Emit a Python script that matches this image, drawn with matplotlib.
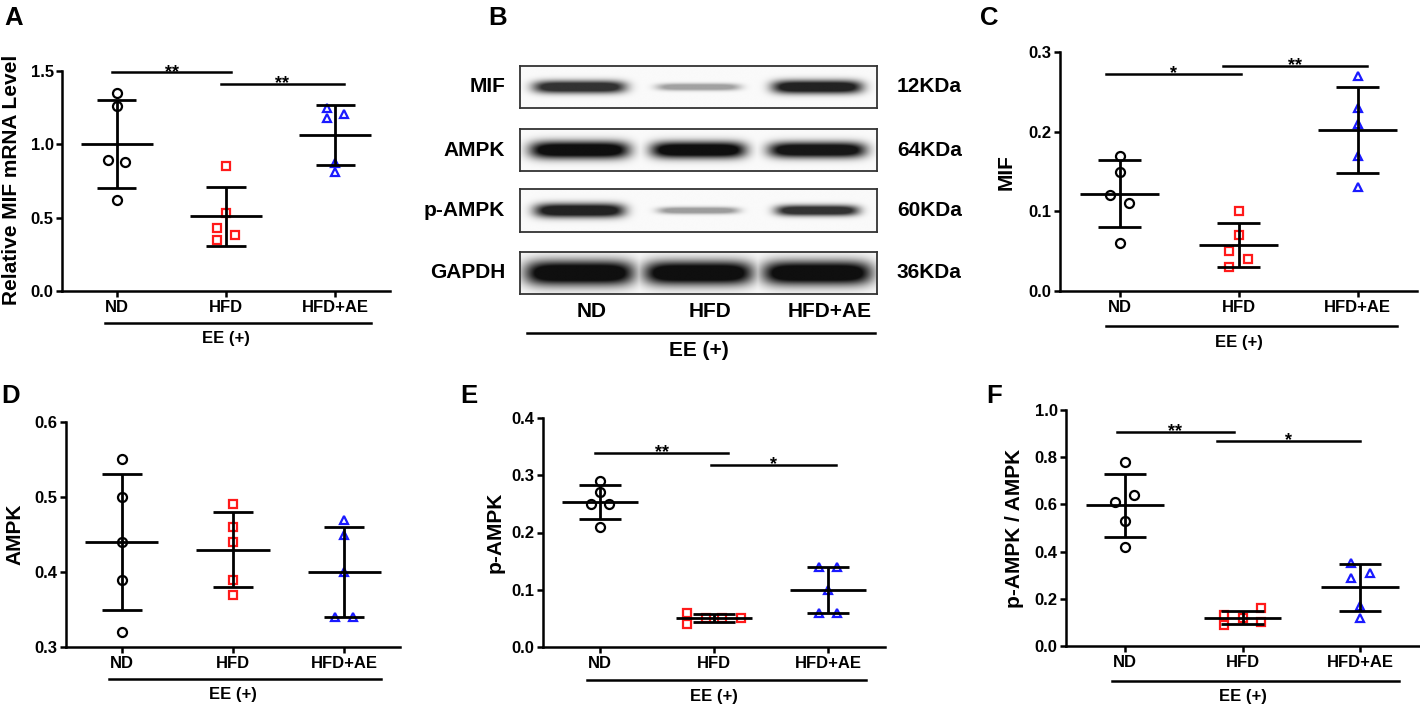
import numpy as np
import matplotlib
matplotlib.use("Agg")
import matplotlib.pyplot as plt
from matplotlib.transforms import ScaledTranslation

plt.rcParams['font.family'] = ['Liberation Sans', 'DejaVu Sans']
plt.rcParams['font.weight'] = 'bold'

groups = ["ND", "HFD", "HFD+AE"]

# A - relative MIF mRNA level
mrna_nd = [1.35, 1.26, 0.89, 0.88, 0.62]
mrna_hfd = [0.85, 0.53, 0.43, 0.38, 0.35]
mrna_ae = [1.25, 1.21, 1.18, 0.87, 0.81]

# C - MIF protein
mif_nd = [0.17, 0.15, 0.12, 0.11, 0.06]
mif_hfd = [0.10, 0.07, 0.05, 0.04, 0.03]
mif_ae = [0.27, 0.23, 0.21, 0.17, 0.13]

# D - AMPK
ampk_nd = [0.55, 0.50, 0.44, 0.39, 0.32]
ampk_hfd = [0.49, 0.46, 0.44, 0.39, 0.37]
ampk_ae = [0.47, 0.45, 0.40, 0.34, 0.34]

# E - p-AMPK
pampk_nd = [0.29, 0.27, 0.25, 0.25, 0.21]
pampk_hfd = [0.06, 0.04, 0.05, 0.05, 0.05]
pampk_ae = [0.14, 0.14, 0.10, 0.06, 0.06]

# F - p-AMPK / AMPK
ratio_nd = [0.78, 0.64, 0.61, 0.53, 0.42]
ratio_hfd = [0.16, 0.13, 0.12, 0.10, 0.09]
ratio_ae = [0.35, 0.31, 0.29, 0.17, 0.12]

# B - western blot, relative band density per lane
blot_rows = ["MIF", "AMPK", "p-AMPK", "GAPDH"]
blot_kda = ["12KDa", "64KDa", "60KDa", "36KDa"]
band_density = [[0.85, 0.38, 0.92],
                [1.00, 1.00, 0.97],
                [0.92, 0.40, 0.85],
                [1.00, 1.00, 1.00]]
band_width = [[0.39, 0.35, 0.38],
              [0.42, 0.40, 0.41],
              [0.38, 0.34, 0.35],
              [0.46, 0.46, 0.46]]
band_thick = [[0.30, 0.17, 0.32],
              [0.42, 0.40, 0.38],
              [0.33, 0.16, 0.25],
              [0.60, 0.58, 0.58]]

colors = ['black', '#ff1a1a', '#1a1aff']
markers = ['o', 's', '^']
msizes = [6.5, 5.6, 6.2]

W, H = 1420, 707
fig = plt.figure(figsize=(W / 100, H / 100), dpi=100)


def px_axes(l, t, r, b):
    return fig.add_axes([l / W, 1 - b / H, (r - l) / W, (b - t) / H])


def px_text(x, y, s, **kw):
    fig.text(x / W, 1 - y / H, s, **kw)


def group_line(ax, x0, x1, line_off, text_off, xtext=1, fs=12):
    tr = ax.get_xaxis_transform()
    ax.plot([x0, x1], [0, 0], color='black', lw=1.8, clip_on=False,
            transform=tr + ScaledTranslation(0, -line_off / 100, fig.dpi_scale_trans))
    ax.text(xtext, 0, "EE (+)", ha='center', va='center', fontsize=fs,
            transform=tr + ScaledTranslation(0, -text_off / 100, fig.dpi_scale_trans))


def dot_panel(rect, values, jitter, ylim, yticks, sig, offs=(33, 49)):
    ax = px_axes(*rect)
    for i, (vals, jit) in enumerate(zip(values, jitter)):
        vals = np.array(vals)
        ax.plot(i + np.array(jit), vals, linestyle='none', marker=markers[i],
                ms=msizes[i], mfc='none', mec=colors[i], mew=1.6,
                zorder=3, clip_on=False)
        m = vals.mean()
        sd = vals.std(ddof=1)
        kw = dict(color='black', lw=2.0, zorder=4, solid_capstyle='butt')
        ax.plot([i - 0.33, i + 0.33], [m, m], **kw)
        ax.plot([i, i], [m - sd, m + sd], **kw)
        ax.plot([i - 0.18, i + 0.18], [m + sd, m + sd], **kw)
        ax.plot([i - 0.18, i + 0.18], [m - sd, m - sd], **kw)
    for x0, x1, y, lab in sig:
        ax.plot([x0, x1], [y, y], color='black', lw=1.8, clip_on=False)
        ax.annotate(lab, xy=((x0 + x1) / 2, y), xytext=(0, -3),
                    textcoords='offset points', ha='center', va='baseline',
                    fontsize=13)
    ax.set_xlim(-0.5, 2.5)
    ax.set_ylim(*ylim)
    ax.set_yticks(yticks)
    ax.set_yticklabels(["%.1f" % t for t in yticks])
    ax.set_xticks(range(3))
    ax.set_xticklabels(groups)
    for s in ['top', 'right']:
        ax.spines[s].set_visible(False)
    for s in ['left', 'bottom']:
        ax.spines[s].set_linewidth(1.8)
    ax.tick_params(width=1.8, length=4.5, labelsize=12, pad=2)
    ax.tick_params(axis='y', pad=1.5)
    ax.patch.set_alpha(0)
    group_line(ax, -0.11, 2.33, offs[0], offs[1])
    return ax


# A
dot_panel((62, 71, 390, 291), [mrna_nd, mrna_hfd, mrna_ae],
          [[0, 0, -0.08, 0.08, 0], [0, 0, -0.08, 0.08, -0.08],
           [-0.08, 0.08, -0.08, 0, 0]],
          (0, 1.5), [0, 0.5, 1.0, 1.5],
          [(-0.04, 1.05, 1.49, "**"), (0.95, 2.08, 1.41, "**")], (32, 47))
px_text(12, 180, "Relative MIF mRNA Level", rotation=90, ha='center',
        va='center', fontsize=15)

# C
dot_panel((1060, 52, 1417, 291), [mif_nd, mif_hfd, mif_ae],
          [[0, 0, -0.08, 0.08, 0], [0, 0, -0.08, 0.08, -0.08],
           [0, 0, 0, 0, 0]],
          (0, 0.3), [0, 0.1, 0.2, 0.3],
          [(-0.11, 1.02, 0.272, "*"), (0.87, 2.08, 0.282, "**")], (35, 51))
px_text(1006, 172, "MIF", rotation=90, ha='center', va='center', fontsize=15)

# D
dot_panel((66, 422, 400, 647), [ampk_nd, ampk_hfd, ampk_ae],
          [[0, 0, 0, 0, 0], [0, 0, 0, 0, 0], [0, 0, 0, -0.08, 0.08]],
          (0.3, 0.6), [0.3, 0.4, 0.5, 0.6], [], (32, 48))
px_text(15, 534, "AMPK", rotation=90, ha='center', va='center', fontsize=15)

# E
dot_panel((543, 418, 885, 647), [pampk_nd, pampk_hfd, pampk_ae],
          [[0, 0, -0.08, 0.08, 0], [-0.24, -0.24, -0.07, 0.07, 0.24],
           [-0.08, 0.08, 0, -0.08, 0.08]],
          (0, 0.4), [0, 0.1, 0.2, 0.3, 0.4],
          [(-0.04, 1.12, 0.339, "**"), (0.97, 2.07, 0.318, "*")], (33, 50))
px_text(495, 532, "p-AMPK", rotation=90, ha='center', va='center', fontsize=15)

# F
dot_panel((1066, 410, 1419, 646), [ratio_nd, ratio_hfd, ratio_ae],
          [[0, 0.08, -0.08, 0, 0], [0.16, -0.16, 0, 0.16, -0.16],
           [-0.08, 0.08, -0.08, 0, 0]],
          (0, 1.0), [0, 0.2, 0.4, 0.6, 0.8, 1.0],
          [(-0.07, 0.93, 0.908, "**"), (0.78, 2.0, 0.869, "*")], (35, 51))
px_text(1015, 528, "p-AMPK / AMPK", rotation=90, ha='center', va='center',
        fontsize=15)

# B - blot strips, each band a soft pill shape scaled by its density
strip_tops = [66, 129, 189, 252]
strip_bottoms = [108, 171, 232, 294]
gx = np.linspace(-0.5, 2.5, 700)
gy = np.linspace(-1, 1, 90)
XX, YY = np.meshgrid(gx, gy)
for r in range(4):
    ax = px_axes(520, strip_tops[r], 877, strip_bottoms[r])
    dark = np.zeros_like(XX)
    for lane in range(3):
        rr = (np.abs(XX - lane) / band_width[r][lane]) ** 6 + \
             (np.abs(YY) / band_thick[r][lane]) ** 2.2
        d = band_density[r][lane] * np.clip(1.35 * np.exp(-rr), 0, 1)
        dark = np.maximum(dark, d)
    ax.imshow(0.98 - 0.92 * dark, cmap='gray', vmin=0, vmax=1,
              extent=(-0.5, 2.5, -1, 1), aspect='auto',
              interpolation='bilinear')
    ax.set_xlim(-0.5, 2.5)
    ax.set_ylim(-1, 1)
    ax.set_xticks([])
    ax.set_yticks([])
    for s in ax.spines.values():
        s.set_linewidth(1.3)
        s.set_color('#333333')
    ax.text(-0.042, 0.5, blot_rows[r], transform=ax.transAxes, ha='right',
            va='center', fontsize=15)
    ax.text(1.056, 0.5, blot_kda[r], transform=ax.transAxes, ha='left',
            va='center', fontsize=15)
    if r == 3:
        tr = ax.get_xaxis_transform() + ScaledTranslation(0, -18 / 100, fig.dpi_scale_trans)
        for i, g in enumerate(groups):
            ax.text(i + 0.1, 0, g, transform=tr, ha='center', va='center',
                    fontsize=15)
        group_line(ax, -0.44, 2.48, 39, 57, xtext=1.0, fs=15)

# panel letters
for lab, x, y in [("A", 4, 25), ("B", 488, 25), ("C", 980, 25),
                  ("D", 1, 403), ("E", 460, 403), ("F", 986, 403)]:
    px_text(x, y, lab, ha='left', va='baseline', fontsize=18.5)

fig.savefig("out.png", dpi=100)
